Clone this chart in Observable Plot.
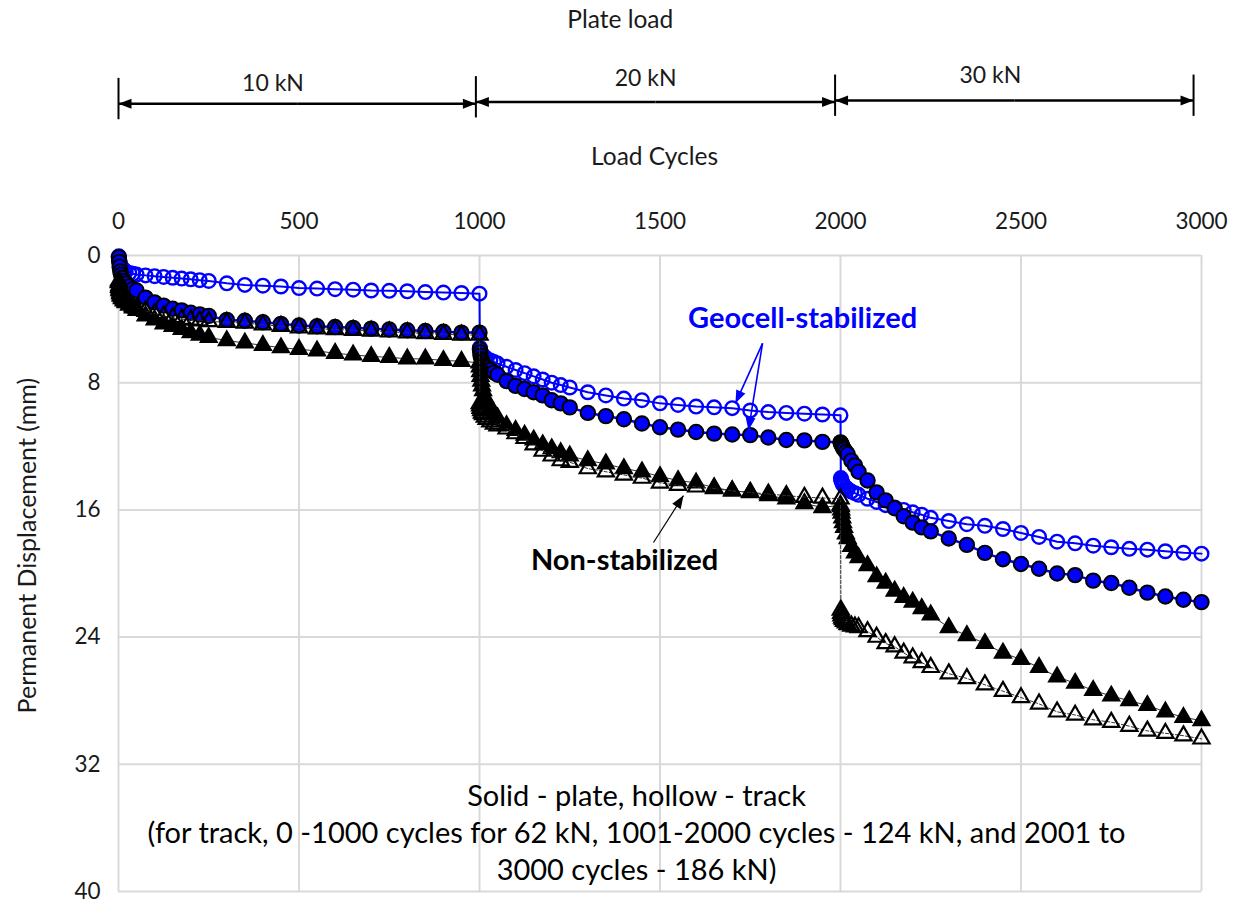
<!DOCTYPE html>
<html><head><meta charset="utf-8">
<script src="https://cdn.jsdelivr.net/npm/d3@7"></script>
<script src="https://cdn.jsdelivr.net/npm/@observablehq/plot@0.6"></script>
<style>html,body{margin:0;padding:0;background:#fff;}</style>
</head><body><div id="chart"></div>
<script>
// ---- Data ----
const cycleOffsets = [1,2,3,5,7,10,15,20,30,40,50,75,100,125,150,175,200,225,250,300,350,400,450,500,550,600,650,700,750,800,850,900,950,1000];
const stageStarts = [0, 1000, 2000];

// Geocell-stabilized, track (hollow blue circles)
const geocellTrack1 = [0.05,0.3,0.45,0.6,0.7,0.8,0.9,1.0,1.1,1.15,1.2,1.25,1.3,1.35,1.4,1.45,1.5,1.55,1.6,1.75,1.85,1.9,1.95,2.05,2.08,2.12,2.15,2.2,2.22,2.25,2.3,2.33,2.36,2.4];
const geocellTrack2 = [5.8,5.95,6.05,6.15,6.25,6.3,6.4,6.5,6.6,6.7,6.8,7.0,7.2,7.4,7.6,7.8,8.0,8.15,8.3,8.6,8.8,9.0,9.1,9.3,9.4,9.5,9.55,9.6,9.75,9.85,9.9,9.95,10.0,10.05];
const geocellTrack3 = [14.0,14.1,14.2,14.3,14.4,14.5,14.6,14.7,14.85,14.95,15.05,15.3,15.5,15.7,15.85,16.0,16.15,16.3,16.5,16.7,16.9,17.0,17.2,17.45,17.7,18.0,18.1,18.25,18.35,18.45,18.5,18.6,18.7,18.75];
// Geocell-stabilized, plate (solid blue circles)
const geocellPlate1 = [0.1,0.4,0.7,1.0,1.2,1.4,1.6,1.75,1.95,2.1,2.2,2.65,2.95,3.15,3.35,3.45,3.6,3.7,3.8,4.05,4.1,4.2,4.3,4.4,4.45,4.5,4.55,4.6,4.65,4.7,4.75,4.8,4.85,4.85];
const geocellPlate2 = [5.9,6.1,6.3,6.5,6.65,6.8,6.95,7.05,7.2,7.35,7.5,7.9,8.2,8.4,8.6,8.8,9.1,9.3,9.55,9.9,10.1,10.3,10.57,10.8,10.95,11.1,11.2,11.26,11.3,11.45,11.6,11.63,11.72,11.75];
const geocellPlate3 = [11.8,11.85,11.9,12.0,12.1,12.2,12.35,12.5,12.9,13.2,13.6,14.15,14.9,15.4,15.9,16.4,16.8,17.1,17.35,17.8,18.2,18.7,19.1,19.4,19.7,20.0,20.1,20.45,20.6,20.9,21.2,21.45,21.65,21.8];
// Non-stabilized, plate (solid black triangles)
const nonStabPlate1 = [1.6,1.9,2.1,2.3,2.5,2.6,2.75,2.85,3.1,3.3,3.45,3.8,4.05,4.3,4.45,4.65,4.85,5.0,5.15,5.35,5.5,5.65,5.8,5.9,6.0,6.15,6.25,6.35,6.4,6.5,6.5,6.6,6.65,6.75];
const nonStabPlate2 = [7.0,7.3,7.6,7.9,8.2,8.5,8.9,9.2,9.6,9.9,10.2,10.7,11.0,11.3,11.6,11.9,12.15,12.4,12.6,12.9,13.1,13.4,13.6,13.9,14.15,14.3,14.6,14.8,14.9,15.1,15.3,15.6,15.85,15.7];
const nonStabPlate3 = [15.8,16.0,16.2,16.5,16.8,17.1,17.5,17.8,18.3,18.7,19.0,19.5,20.2,20.6,21.1,21.5,21.8,22.2,22.6,23.4,23.9,24.4,25.0,25.4,25.9,26.5,26.9,27.35,27.7,28.0,28.3,28.7,29.05,29.25];
// Non-stabilized, track (hollow black triangles)
const nonStabTrack1 = [1.7,2.0,2.2,2.4,2.55,2.7,2.85,2.95,3.1,3.2,3.3,3.5,3.65,3.8,3.9,4.0,4.05,4.1,4.15,4.2,4.25,4.35,4.45,4.55,4.6,4.65,4.7,4.75,4.8,4.85,4.9,4.95,5.0,5.0];
const nonStabTrack2 = [9.3,9.45,9.6,9.75,9.9,10.0,10.15,10.3,10.45,10.6,10.7,10.9,11.2,11.5,11.9,12.3,12.6,12.9,13.0,13.4,13.6,13.8,14.0,14.3,14.45,14.55,14.65,14.8,14.9,15.0,15.1,15.2,15.25,15.3];
const nonStabTrack3 = [22.3,22.5,22.65,22.8,22.9,23.0,23.1,23.2,23.3,23.35,23.4,23.65,24.0,24.4,24.6,25.0,25.3,25.6,25.9,26.3,26.6,27.0,27.4,27.8,28.2,28.7,28.9,29.2,29.35,29.6,29.9,30.05,30.2,30.4];

const xTicks = [0,500,1000,1500,2000,2500,3000];
const yTicks = [0,8,16,24,32,40];
const plateLoadLabels = ["10 kN","20 kN","30 kN"];
const plateLoadBounds = [0, 990, 1985, 2978];

const titleText = "Plate load";
const xLabelText = "Load Cycles";
const yLabelText = "Permanent Displacement (mm)";
const geocellText = "Geocell-stabilized";
const nonStabText = "Non-stabilized";
const captionText = "Solid - plate, hollow - track\n(for track, 0 -1000 cycles for 62 kN, 1001-2000 cycles - 124 kN, and 2001 to\n3000 cycles - 186 kN)";

// ---- Build tables ----
function build(stages) {
  const rows = [];
  stages.forEach((vals, s) => vals.forEach((v, i) => rows.push({cycle: stageStarts[s] + cycleOffsets[i], disp: v})));
  return rows;
}
const gTrack = build([geocellTrack1, geocellTrack2, geocellTrack3]);
const gPlate = build([geocellPlate1, geocellPlate2, geocellPlate3]);
const nPlate = build([nonStabPlate1, nonStabPlate2, nonStabPlate3]);
const nTrack = build([nonStabTrack1, nonStabTrack2, nonStabTrack3]);

// annotation geometry (in data units)
const spanY = [-9.54, -9.65, -9.75];
const spanTextY = [-10.8, -11.1, -11.3];
const spanTextX = [428, 1460, 2415];
const spans = plateLoadLabels.map((label, i) => {
  const a = plateLoadBounds[i], b = plateLoadBounds[i + 1];
  return {label, a, b, mid: (a + b) / 2, y: spanY[i], tx: spanTextX[i], ty: spanTextY[i]};
});
const spanArrows = spans.flatMap(s => [{x1: s.mid, x2: s.a, y: s.y}, {x1: s.mid, x2: s.b, y: s.y}]);
const bars = plateLoadBounds.map((x, i) => {
  const y = spanY[Math.min(i, 2)];
  return {x, y1: y - 1.6, y2: y + 1.0};
});
const geocellArrows = [
  {x1: 1784, y1: 5.53, x2: 1709, y2: 9.3},
  {x1: 1784, y1: 5.53, x2: 1745, y2: 11.0}
];
const nonStabArrows = [{x1: 1482, y1: 18.05, x2: 1565, y2: 15.1}];

const BLUE = "#0000ff";
const GRID = "#d9d9d9";
const FONT = "Lato";
const fmt = d => String(d);

const chart = Plot.plot({
  width: 1238,
  height: 904,
  marginTop: 255,
  marginBottom: 13,
  marginLeft: 118,
  marginRight: 37,
  style: {fontFamily: FONT, fontSize: "22px", color: "#1a1a1a", background: "#fff"},
  x: {domain: [0, 3000]},
  y: {domain: [0, 40], reverse: true},
  marks: [
    Plot.gridX(xTicks, {stroke: GRID, strokeOpacity: 1, strokeWidth: 2}),
    Plot.gridY(yTicks, {stroke: GRID, strokeOpacity: 1, strokeWidth: 2}),
    Plot.axisX(xTicks, {anchor: "top", tickSize: 0, tickPadding: 27, label: null, fontSize: 22.5, tickFormat: fmt}),
    Plot.axisY(yTicks, {anchor: "left", tickSize: 0, tickPadding: 18, label: null, fontSize: 22.5, tickFormat: fmt}),

    // Geocell track: hollow blue circles
    Plot.line(gTrack, {x: "cycle", y: "disp", stroke: BLUE, strokeWidth: 2}),
    Plot.dot(gTrack, {x: "cycle", y: "disp", r: 6.8, stroke: BLUE, strokeWidth: 2.4, fill: "none"}),
    // Geocell plate: solid blue circles
    Plot.line(gPlate, {x: "cycle", y: "disp", stroke: BLUE, strokeWidth: 2.5}),
    Plot.dot(gPlate, {x: "cycle", y: "disp", r: 7.2, stroke: "#000", strokeWidth: 2, fill: BLUE}),
    // Non-stabilized plate: solid triangles
    Plot.line(nPlate, {x: "cycle", y: "disp", stroke: "#333", strokeWidth: 1}),
    Plot.dot(nPlate, {x: "cycle", y: "disp", symbol: "triangle", r: 6.3, stroke: "#000", strokeWidth: 1.5, fill: "#000"}),
    // Non-stabilized track: hollow triangles
    Plot.line(nTrack, {x: "cycle", y: "disp", stroke: "#333", strokeWidth: 1, strokeDasharray: "3,2"}),
    Plot.dot(nTrack, {x: "cycle", y: "disp", symbol: "triangle", r: 6.0, stroke: "#000", strokeWidth: 2.2, fill: "none"}),

    // Plate-load spans above the chart
    Plot.ruleX(bars, {x: "x", y1: "y1", y2: "y2", stroke: "#000", strokeWidth: 2}),
    Plot.link(spanArrows, {x1: "x1", x2: "x2", y1: "y", y2: "y", stroke: "#000", strokeWidth: 2.5, markerEnd: "arrow"}),
    Plot.text(spans, {x: "tx", y: "ty", text: "label", fontSize: 23, fill: "#1a1a1a"}),
    Plot.text([titleText], {x: 1390, y: -14.8, text: d => d, fontSize: 24.5, fill: "#1a1a1a"}),
    Plot.text([xLabelText], {x: 1485, y: -6.16, text: d => d, fontSize: 24.5, fill: "#1a1a1a"}),
    Plot.text([yLabelText], {x: -252, y: 18.25, text: d => d, rotate: -90, fontSize: 25, fill: "#1a1a1a"}),

    // Annotations
    Plot.link(geocellArrows, {x1: "x1", y1: "y1", x2: "x2", y2: "y2", stroke: BLUE, strokeWidth: 1.6, markerEnd: "arrow"}),
    Plot.text([geocellText], {x: 1895, y: 3.96, text: d => d, fontSize: 29, fontWeight: "bold", fill: BLUE}),
    Plot.link(nonStabArrows, {x1: "x1", y1: "y1", x2: "x2", y2: "y2", stroke: "#000", strokeWidth: 1.2, markerEnd: "arrow"}),
    Plot.text([nonStabText], {x: 1402, y: 19.2, text: d => d, fontSize: 29, fontWeight: "bold", fill: "#000"}),
    Plot.text([captionText], {x: 1435, y: 36.2, text: d => d, fontSize: 29, lineHeight: 1.27, fill: "#000"})
  ]
});

// Turn Plot's open arrow markers into filled arrowheads
d3.select(chart).selectAll("marker").each(function () {
  const m = d3.select(this);
  const color = m.attr("stroke") || "#000";
  m.attr("viewBox", "-14 -7 15 14")
    .attr("markerUnits", "userSpaceOnUse")
    .attr("markerWidth", 15)
    .attr("markerHeight", 14)
    .attr("fill", color)
    .attr("stroke", "none");
  m.selectAll("path").attr("d", "M-13,-5L0,0L-13,5Z");
});

document.getElementById("chart").appendChild(chart);
</script></body></html>
